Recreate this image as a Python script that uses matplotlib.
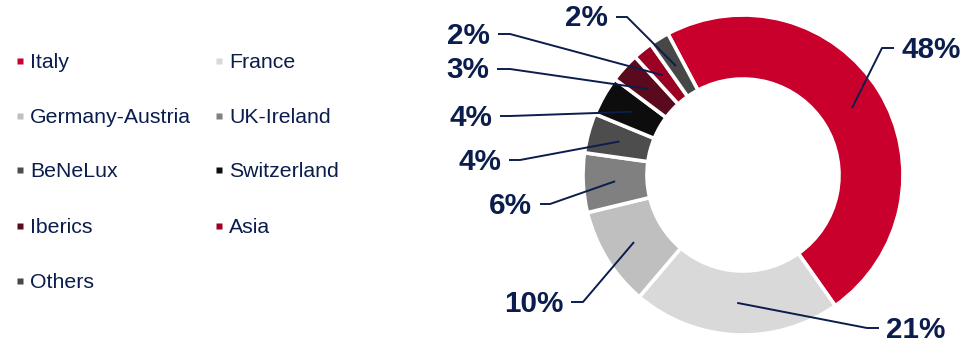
import numpy as np
import matplotlib
matplotlib.use("Agg")
import matplotlib.pyplot as plt

plt.rcParams["font.family"] = ["Liberation Sans", "DejaVu Sans"]

regions = ["Italy", "France", "Germany-Austria", "UK-Ireland", "BeNeLux",
           "Switzerland", "Iberics", "Asia", "Others"]
shares = [48, 21, 10, 6, 4, 4, 3, 2, 2]
colors = ["#c8002b", "#d9d9d9", "#bfbfbf", "#808080", "#4d4d4d",
          "#0d0d0d", "#5a0a1c", "#9c0022", "#474747"]
pct_labels = [f"{v}%" for v in shares]

NAVY = "#0b1d4d"
W, H = 973, 342

# label leader layout in pixel coords (elbow, end of horizontal)
label_elbow = [(882, 48), (867, 328), (583, 302), (550, 204), (520, 160),
               (510, 116), (510, 69), (510, 34), (627, 17)]
label_end = [(894, 48), (879, 328), (571, 302), (540, 204), (509, 160),
             (500, 116), (497, 69), (498, 34), (616, 17)]

fig = plt.figure(figsize=(W / 100, H / 100), dpi=100)
ax = fig.add_axes([0, 0, 1, 1])

cx, cy, R = 743, H - 175, 160
start = 118
wedges, _ = ax.pie(shares, colors=colors, startangle=start, counterclock=False,
                   center=(cx, cy), radius=R,
                   wedgeprops=dict(width=R * 0.4, edgecolor="white", linewidth=2.6))

for w, lab, el, en in zip(wedges, pct_labels, label_elbow, label_end):
    mid = np.deg2rad((w.theta1 + w.theta2) / 2)
    ax_x = cx + 0.8 * R * np.cos(mid)
    ax_y = cy + 0.8 * R * np.sin(mid)
    xs = [ax_x, el[0], en[0]]
    ys = [ax_y, H - el[1], H - en[1]]
    ax.plot(xs, ys, color=NAVY, lw=1.4, solid_capstyle="butt")
    right = en[0] > el[0]
    tx = en[0] + (7 if right else -8)
    ax.text(tx, H - en[1] - 1.5, lab, ha="left" if right else "right", va="center",
            fontsize=21.3, fontweight="bold", color=NAVY)

# legend, two columns
leg_x = [20, 219]
leg_y = [61, 116, 170, 226, 281]
for i, (name, c) in enumerate(zip(regions, colors)):
    col, row = i % 2, i // 2
    ax.plot(leg_x[col], H - leg_y[row], marker="s", ms=4.5, color=c, mec="none")
    ax.text(leg_x[col] + 10, H - leg_y[row] - 1.5, name, ha="left", va="center",
            fontsize=15.3, color=NAVY)

ax.set_xlim(0, W)
ax.set_ylim(0, H)
ax.set_aspect("equal")
ax.axis("off")

fig.savefig("out.png", dpi=100)
